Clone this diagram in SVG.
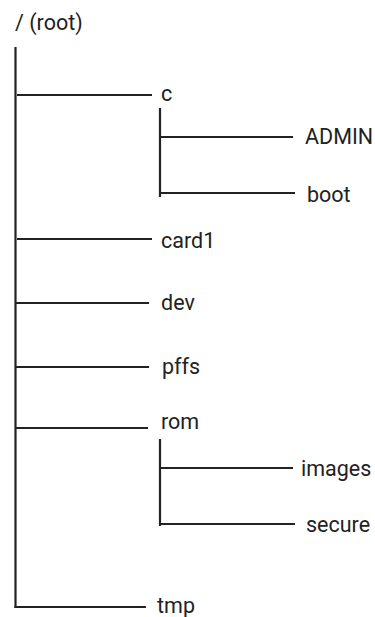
<svg xmlns="http://www.w3.org/2000/svg" width="375" height="617" viewBox="0 0 375 617">
<style>
.t{font-family:Roboto,"Liberation Sans",sans-serif;font-size:21.5px;fill:#222}
.c line{stroke:#222;stroke-width:2.2;stroke-linecap:butt}
</style>
<rect width="375" height="617" fill="#fff"/>
<g class="c" id="connectors">
<line x1="15.5" y1="47" x2="15.5" y2="608"/>
<line x1="17" y1="95" x2="152" y2="95"/>
<line x1="160" y1="108" x2="160" y2="197"/>
<line x1="160" y1="137" x2="293" y2="137"/>
<line x1="160" y1="193" x2="295" y2="193"/>
<line x1="17" y1="239" x2="152" y2="239"/>
<line x1="15" y1="303" x2="149" y2="303"/>
<line x1="15" y1="367" x2="149" y2="367"/>
<line x1="15" y1="428" x2="148" y2="428"/>
<line x1="160" y1="439" x2="160" y2="526"/>
<line x1="160" y1="468" x2="293" y2="468"/>
<line x1="160" y1="524" x2="295" y2="524"/>
<line x1="14.5" y1="607" x2="146" y2="607"/>
</g>
<g id="root"><text class="t" x="15" y="30">/ (root)</text></g>
<g id="c"><text class="t" x="161" y="100.5">c</text></g>
<g id="admin"><text class="t" x="305" y="144">ADMIN</text></g>
<g id="boot"><text class="t" x="307" y="201.5">boot</text></g>
<g id="card1"><text class="t" x="161" y="248">card1</text></g>
<g id="dev"><text class="t" x="161" y="310">dev</text></g>
<g id="pffs"><text class="t" x="162" y="374">pffs</text></g>
<g id="rom"><text class="t" x="161" y="429">rom</text></g>
<g id="images"><text class="t" x="301" y="476">images</text></g>
<g id="secure"><text class="t" x="306" y="532">secure</text></g>
<g id="tmp"><text class="t" x="157" y="613">tmp</text></g>
</svg>
